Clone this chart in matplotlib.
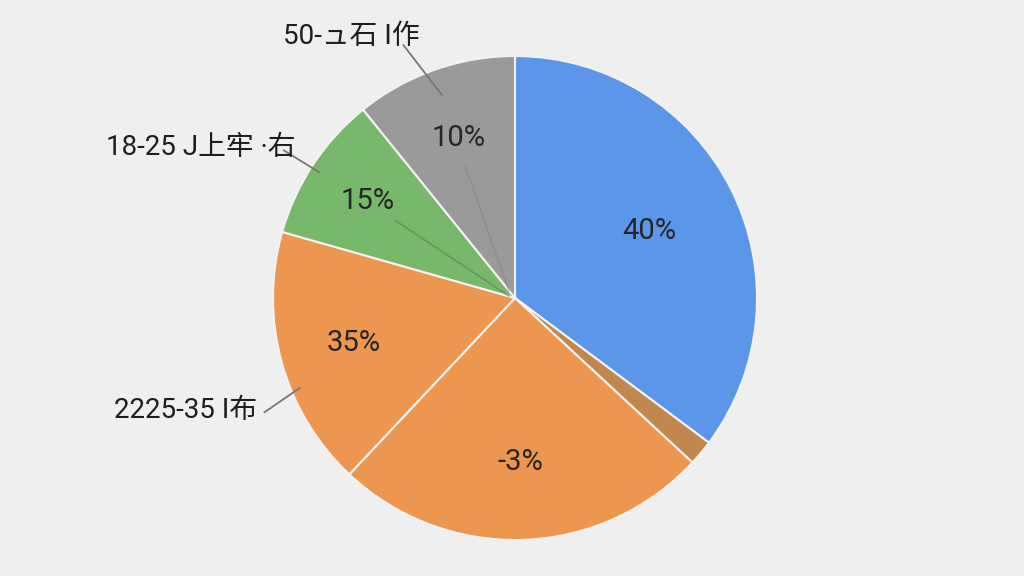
import numpy as np
import matplotlib.pyplot as plt

# slice shares (clockwise from 12 o'clock)
shares = [35.2, 1.7, 25.1, 17.4, 9.8, 10.8]
pct_text = ['40%', '', '-3%', '35%', '15%', '10%']
colors = ['#5b96e8', '#c0874f', '#ec9650', '#ec9650', '#78b86a', '#9a9a9a']
pct_dist = [0.62, 0.0, 0.68, 0.69, 0.73, 0.70]

outer_labels = ['50-ュ石 I作', '18-25 J上牢 ·右', '2225-35 I布']

plt.rcParams['font.family'] = ['Roboto', 'Noto Sans CJK SC', 'DejaVu Sans']

R = 242  # pie radius in pixels
cx, cy = 515, 576 - 298
fig = plt.figure(figsize=(10.24, 5.76), dpi=100, facecolor='#efefef')
ax = fig.add_axes([(cx - R) / 1024, (cy - R) / 576, 2 * R / 1024, 2 * R / 576])
ax.set_facecolor('#efefef')

wedges, _ = ax.pie(shares, colors=colors, startangle=90, counterclock=False,
                   radius=1.0, wedgeprops={'edgecolor': '#f2f2f2', 'linewidth': 1.5})

for w, t, d in zip(wedges, pct_text, pct_dist):
    if not t:
        continue
    mid = np.deg2rad((w.theta1 + w.theta2) / 2)
    ax.text(d * np.cos(mid), d * np.sin(mid), t, ha='center', va='center',
            fontsize=21, color='#262626')

# outside labels with leader lines
ax.text(-0.675, 1.080, outer_labels[0], ha='center', va='center', fontsize=20,
        color='#1e1e1e', clip_on=False)
ax.plot([-0.461, -0.303], [1.045, 0.840], c='#777777', lw=1.3, clip_on=False)
ax.plot([-0.207, -0.025], [0.548, 0.029], c='#888888', lw=1, alpha=0.6)

ax.text(-1.690, 0.620, outer_labels[1], ha='left', va='center', fontsize=20,
        color='#1e1e1e', clip_on=False)
ax.plot([-0.955, -0.810], [0.610, 0.520], c='#777777', lw=1.3, clip_on=False)
ax.plot([-0.494, -0.025], [0.320, 0.008], c='#5a7a55', lw=1, alpha=0.6)

ax.text(-1.655, -0.465, outer_labels[2], ha='left', va='center', fontsize=20,
        color='#1e1e1e', clip_on=False)
ax.plot([-1.035, -0.890], [-0.472, -0.372], c='#777777', lw=1.3, clip_on=False)

ax.set_xlim(-1, 1)
ax.set_ylim(-1, 1)
ax.set_aspect('auto')
ax.axis('off')

fig.savefig('out.png', dpi=100, facecolor=fig.get_facecolor())
